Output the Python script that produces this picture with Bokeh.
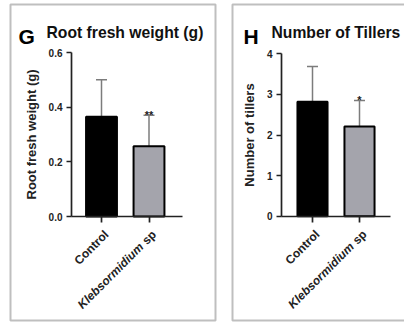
from bokeh.plotting import figure
from bokeh.layouts import row
from bokeh.models import (Range1d, FixedTicker, NumeralTickFormatter, Label,
                          BoxAnnotation, Whisker, TeeHead, ColumnDataSource)
from bokeh.embed import file_html
from bokeh.resources import INLINE

# ---- data ----
groups = ["Control", "Klebsormidium sp"]
positions = [1, 2]
root_mean = [0.365, 0.257]
root_sd = [0.135, 0.113]
root_sig = ["", "**"]
tiller_mean = [2.82, 2.21]
tiller_sd = [0.87, 0.64]
tiller_sig = ["", "*"]
bar_colors = ["#000000", "#a4a4ac"]

FONT = "Liberation Sans"
BORDER = "#2a2a2a"
H_PX = 322


def panel(letter, title, ylabel, means, sds, sigs, y_end, y_ticks, width,
          zero_px, top_px, x1_px, x2_px, axis_px, axis_end_px, box, bar_w,
          letter_x, title_x, fmt=None):
    # the plot frame fills the whole canvas; axes sit at fixed data positions
    xs = x2_px - x1_px                      # pixels per x unit
    ys = (zero_px - top_px) / y_end         # pixels per y unit
    x_start = 1 - x1_px / xs
    y_top = zero_px / ys
    p = figure(width=width, height=H_PX,
               x_range=Range1d(x_start, x_start + width / xs),
               y_range=Range1d(y_top - H_PX / ys, y_top),
               min_border=0, output_backend="svg", toolbar_location=None)
    p.xgrid.visible = False
    p.ygrid.visible = False
    p.outline_line_color = None

    ax_x = 1 + (axis_px - x1_px) / xs
    ax_end = 1 + (axis_end_px - x1_px) / xs

    uppers = [m + s for m, s in zip(means, sds)]
    src = ColumnDataSource(dict(x=positions, top=means, upper=uppers,
                                color=bar_colors))

    # error bars (upper half only), drawn beneath the bars
    p.add_layout(Whisker(source=src, base="x", lower="top", upper="upper",
                         dimension="height", line_color="#7c7c7c", line_width=1.5,
                         upper_head=TeeHead(size=11, line_color="#7c7c7c",
                                            line_width=1.5),
                         lower_head=None, level="underlay"))
    p.vbar(x="x", top="top", width=bar_w, bottom=0, source=src,
           fill_color="color", line_color="black", line_width=2)

    # significance marks above the error caps
    keep = [i for i, s in enumerate(sigs) if s]
    star_src = ColumnDataSource(dict(x=[positions[i] for i in keep],
                                     y=[uppers[i] for i in keep],
                                     t=[sigs[i] for i in keep]))
    p.text(x="x", y="y", text="t", source=star_src, text_align="center",
           text_baseline="alphabetic", text_font_size="11px",
           text_font_style="bold", text_color="#222222",
           text_font={"value": FONT})

    # axes
    xa, ya = p.xaxis[0], p.yaxis[0]
    xa.fixed_location = 0
    xa.bounds = (ax_x, ax_end)
    ya.fixed_location = ax_x
    ya.bounds = (0, y_end)
    for ax in (xa, ya):
        ax.axis_line_color = "#222222"
        ax.axis_line_width = 1.7
        ax.major_tick_line_color = "#222222"
        ax.major_tick_line_width = 1.7
        ax.major_tick_in = 0
        ax.major_tick_out = 6
        ax.minor_tick_line_color = None
    xa.ticker = FixedTicker(ticks=positions)
    xa.major_label_text_color = None
    ya.ticker = FixedTicker(ticks=y_ticks)
    if fmt:
        ya.formatter = NumeralTickFormatter(format=fmt)
    ya.major_tick_out = 5
    ya.major_label_text_font = FONT
    ya.major_label_text_font_style = "bold"
    ya.major_label_text_font_size = "10px"
    ya.major_label_text_color = "#222222"
    ya.major_label_standoff = 4
    ya.axis_label = ylabel
    ya.axis_label_text_font = FONT
    ya.axis_label_text_font_style = "bold"
    ya.axis_label_text_font_size = "13px"
    ya.axis_label_text_color = "#222222"
    ya.axis_label_standoff = 7

    # rotated category labels (species name partly italic)
    lab = dict(y=0, angle=45, angle_units="deg", text_align="right",
               text_baseline="middle", text_font=FONT, text_font_size="12px",
               text_color="#222222")
    p.add_layout(Label(x=positions[0], x_offset=5, y_offset=-16,
                       text=groups[0], text_font_style="bold", **lab))
    genus, rest = groups[1].split(" ", 1)
    p.add_layout(Label(x=positions[1], x_offset=5, y_offset=-16,
                       text=rest, text_font_style="bold", **lab))
    shift = 12.5
    p.add_layout(Label(x=positions[1], x_offset=5 - shift, y_offset=-16 - shift,
                       text=genus, text_font_style="bold italic", **lab))

    # panel letter and heading (screen units, origin at bottom-left)
    p.add_layout(Label(x=letter_x, y=H_PX - 35.5, x_units="screen",
                       y_units="screen", text=letter, text_font=FONT,
                       text_font_size="21px", text_font_style="bold",
                       text_color="black", text_baseline="alphabetic"))
    p.add_layout(Label(x=title_x, y=H_PX - 31.5, x_units="screen",
                       y_units="screen", text=title, text_font=FONT,
                       text_font_size="15.7px", text_font_style="bold",
                       text_color="#111111", text_baseline="alphabetic"))

    # panel frame
    left, right, top, bottom = box
    p.add_layout(BoxAnnotation(left=left, right=right, top=H_PX - top,
                               bottom=H_PX - bottom,
                               left_units="screen", right_units="screen",
                               top_units="screen", bottom_units="screen",
                               fill_alpha=0, line_color=BORDER, line_width=2))
    return p


pg = panel("G", "Root fresh weight (g)", "Root fresh weight (g)",
           root_mean, root_sd, root_sig, 0.6, [0, 0.2, 0.4, 0.6], 222,
           216, 52, 101, 148.5, 71, 182, (10, 215, 4, 320), 0.65,
           18, 46, fmt="0.0")
ph = panel("H", "Number of Tillers", "Number of tillers",
           tiller_mean, tiller_sd, tiller_sig, 4, [0, 1, 2, 3, 4], 182,
           215.7, 53.3, 90, 137, 59, 168, (10, 190, 4, 320), 0.64,
           21, 49)

layout = row(pg, ph)
open("out.html", "w").write(file_html(layout, INLINE))
